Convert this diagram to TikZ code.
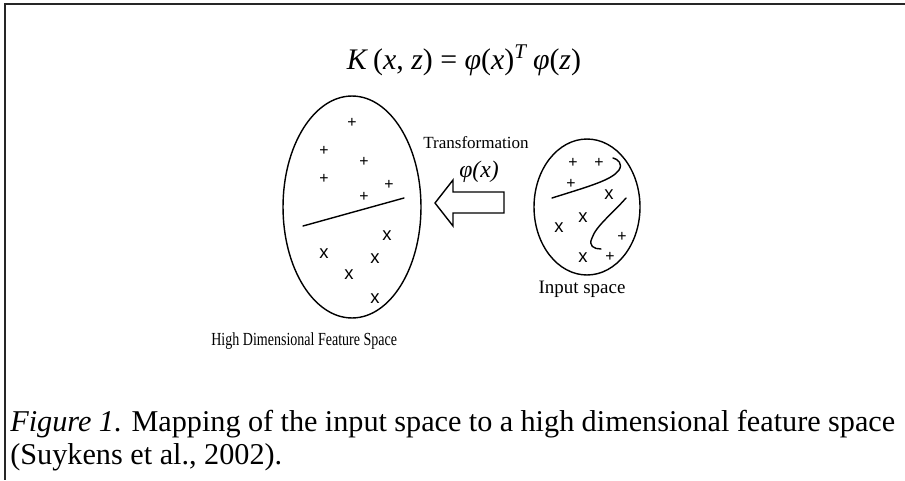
\documentclass[tikz,border=0pt]{standalone}
\usepackage{amsmath,amssymb}
\usepackage{fontspec}
\setmainfont{Liberation Serif}
\newfontfamily\markfont{Liberation Sans}
\usetikzlibrary{arrows.meta, positioning, shapes.geometric, calc}

\begin{document}
\begin{tikzpicture}[
      x=0.02cm, y=-0.02cm,
      space/.style={ellipse, draw, thick, inner sep=0pt},
      lbl/.style={font=\fontsize{10}{12}\selectfont, inner sep=0pt},
      pmark/.style={font=\markfont\fontsize{9}{9}\selectfont, inner sep=0pt},
      xmark/.style={font=\markfont\fontsize{10.5}{10.5}\selectfont, inner sep=0pt},
      sep/.style={thick, line cap=round}
    ]
      \useasboundingbox (0,0) rectangle (905,480);
      % frame
      \draw[line width=0.9pt, black!85] (905,4) -- (5,4) -- (5,480);

      % kernel
      \node[inner sep=0pt, font=\fontsize{17}{20}\selectfont] (kern) at (464,60)
        {\textit{K}\,(\textit{x}, \textit{z}) = \textit{φ}(\textit{x})\textsuperscript{\textit{T}}\,\textit{φ}(\textit{z})};

      % feature space
      \node[space, minimum width=2.76cm, minimum height=4.44cm] (feat) at (352,207) {};
      \node[lbl, anchor=west] (featlbl) at (211,341) {\scalebox{0.76}[1]{\fontsize{10.5}{12}\selectfont High Dimensional Feature Space}};
      \foreach \px/\py [count=\i] in {352/123, 324/151, 364/162, 324/179, 389/185, 364/197}
        \node[pmark] (fp\i) at (\px,\py) {+};
      \foreach \qx/\qy [count=\i] in {387/236, 324/254, 375/259, 349/275, 375/299}
        \node[xmark] (fx\i) at (\qx,\qy) {x};
      \draw[sep] (303,226) -- (404,198);

      % input space
      \node[space, minimum width=2.12cm, minimum height=2.72cm] (inp) at (587,207) {};
      \node[lbl, font=\fontsize{10.8}{12}\selectfont] (inplbl) at (582,289) {Input space};
      \foreach \px/\py [count=\i] in {573/163, 599/163, 571/184, 622/237, 610/257}
        \node[pmark] (ip\i) at (\px,\py) {+};
      \foreach \qx/\qy [count=\i] in {609/195, 583/218, 559/228, 583/258}
        \node[xmark] (ix\i) at (\qx,\qy) {x};
      \draw[sep] (552,198) .. controls (590,186) and (612,180) .. (619,170)
        .. controls (623,164) and (618,159) .. (613,158);
      \draw[sep] (626,198) .. controls (612,214) and (596,226) .. (592,238)
        .. controls (588,246) and (594,249) .. (601,249);

      % transformation
      \node[lbl, font=\fontsize{9.7}{12}\selectfont] (trans) at (476,143) {Transformation};
      \node[inner sep=0pt, font=\fontsize{13.5}{16}\selectfont] (phi) at (479,172) {\textit{φ(x)}};
      \draw[thick, line join=miter] (504,192) -- (453,192) -- (453,180) -- (435,203)
        -- (453,226) -- (453,213) -- (504,213) -- cycle;

      % caption
      \node[anchor=north west, inner sep=0pt, text width=17.7cm, align=justify,
            font=\fontsize{17.2}{18.8}\selectfont] (cap) at (10,410)
        {\textit{Figure 1}. Mapping of the input space to a high dimensional feature space (Suykens et al., 2002).};
    \end{tikzpicture}
\end{document}
